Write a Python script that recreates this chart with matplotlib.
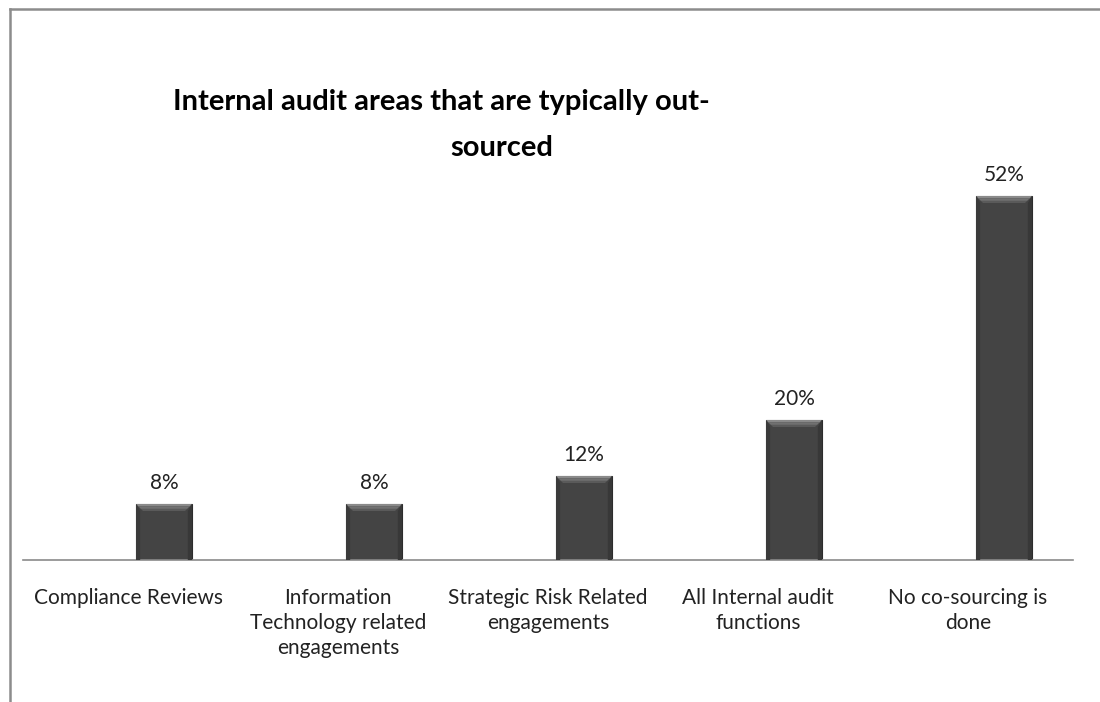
import matplotlib.pyplot as plt
from matplotlib.patches import Polygon
from matplotlib.lines import Line2D

categories = ["Compliance Reviews",
              "Information\nTechnology related\nengagements",
              "Strategic Risk Related\nengagements",
              "All Internal audit\nfunctions",
              "No co-sourcing is\ndone"]
values = [8, 8, 12, 20, 52]
value_labels = ["8%", "8%", "12%", "20%", "52%"]

plt.rcParams['font.family'] = ['Lato', 'DejaVu Sans']

fig = plt.figure(figsize=(11, 7.02), dpi=100)
W, H = 1100, 702

# plot area: baseline at y=560px, 7px per percent
ax = fig.add_axes([23 / W, (H - 560) / H, 1050 / W, 420 / H])
ax.set_xlim(-0.5, 4.5)
ax.set_ylim(0, 60)

shift = 36 / 210
bw = 56 / 210
xs = [i + shift for i in range(len(values))]
bars = ax.bar(xs, values, width=bw, color="#444444", edgecolor="#2c2c2c", linewidth=0.8, zorder=2)

# bevelled look: light top edge fading down, faint darker sides
bx = 7 / 210
by = 7 / 7
for b in bars:
    x0, x1 = b.get_x(), b.get_x() + b.get_width()
    top = b.get_height()
    steps = [("#8a8a8a", 0.0, 0.35), ("#717171", 0.35, 0.7), ("#5a5a5a", 0.7, 1.0)]
    for col, f0, f1 in steps:
        ax.add_patch(Polygon([[x0 + bx * f0, top - by * f0], [x1 - bx * f0, top - by * f0],
                              [x1 - bx * f1, top - by * f1], [x0 + bx * f1, top - by * f1]],
                             closed=True, facecolor=col, edgecolor="none", zorder=3))
    ax.add_patch(Polygon([[x0, top], [x0 + bx * 0.6, top - by], [x0 + bx * 0.6, 0], [x0, 0]],
                         closed=True, facecolor="#3a3a3a", edgecolor="none", zorder=3))
    ax.add_patch(Polygon([[x1, top], [x1 - bx * 0.6, top - by], [x1 - bx * 0.6, 0], [x1, 0]],
                         closed=True, facecolor="#383838", edgecolor="none", zorder=3))

for x, v, lab in zip(xs, values, value_labels):
    ax.annotate(lab, (x, v), xytext=(0, 8), textcoords="offset points",
                ha="center", va="bottom", fontsize=15, color="#222222")

ax.set_xticks(range(len(categories)))
ax.set_xticklabels(categories, fontsize=15, color="#222222", linespacing=1.32)
ax.tick_params(axis="x", length=0, pad=20)
ax.set_yticks([])
for s in ["top", "right", "left"]:
    ax.spines[s].set_visible(False)
ax.spines["bottom"].set_color("#8a8a8a")
ax.spines["bottom"].set_linewidth(1.2)

fig.text(441 / W, 1 - 102 / H, "Internal audit areas that are typically out-",
         ha="center", va="center", fontsize=21, fontweight="bold", color="black")
fig.text(502 / W, 1 - 148 / H, "sourced",
         ha="center", va="center", fontsize=21, fontweight="bold", color="black")

# outer chart border
fig.add_artist(Line2D([10 / W, 1], [1 - 9 / H, 1 - 9 / H], color="#8c8c8c", linewidth=1.8))
fig.add_artist(Line2D([10 / W, 10 / W], [0, 1 - 9 / H], color="#8c8c8c", linewidth=1.8))

fig.savefig("out.png", dpi=100)
